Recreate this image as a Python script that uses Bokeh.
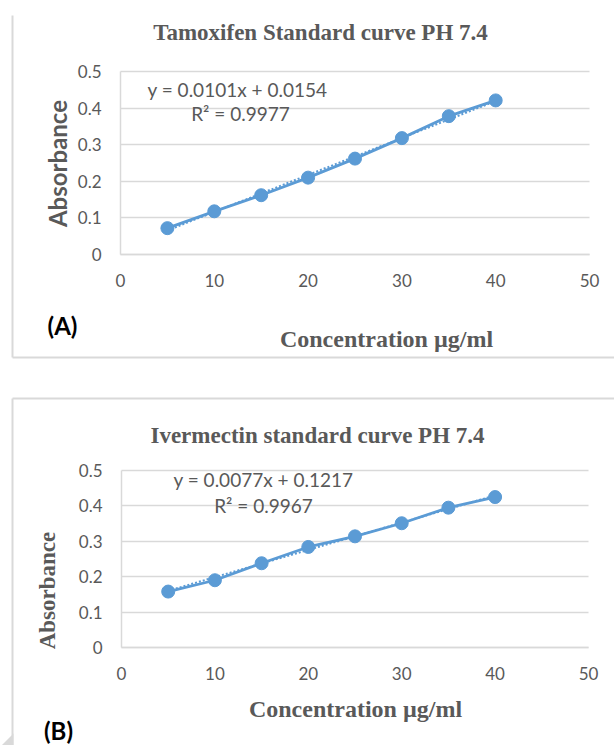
from bokeh.plotting import figure
from bokeh.models import Range1d, FixedTicker, Label
from bokeh.layouts import column
from bokeh.embed import file_html
from bokeh.resources import INLINE

# ---- data ----
conc = [5, 10, 15, 20, 25, 30, 35, 40]
abs_tamoxifen = [0.072, 0.118, 0.162, 0.210, 0.262, 0.318, 0.378, 0.421]
abs_ivermectin = [0.158, 0.190, 0.238, 0.284, 0.314, 0.351, 0.395, 0.425]
tam_slope, tam_intercept, tam_r2 = 0.0101, 0.0154, 0.9977
iver_slope, iver_intercept, iver_r2 = 0.0077, 0.1217, 0.9967
x_ticks = [0, 10, 20, 30, 40, 50]
y_ticks = [0, 0.1, 0.2, 0.3, 0.4, 0.5]
y_tick_labels = ["0", "0.1", "0.2", "0.3", "0.4", "0.5"]
X_MAX, Y_MAX = 50, 0.5

BLUE = "#5b9bd5"
GRAY = "#595959"
LINE = "#d9d9d9"
SANS = "Lato"
SERIF = "Liberation Serif"


def make_chart(ys, slope, intercept, r2, title, ylab_font, ylab_size, tag,
               width, height, origin, frame, pos, box, corner=None):
    ox, oy = origin
    fl, ft, fr, fb = frame  # plot-area edges in page px

    def dx(px):
        return (px - fl) / (fr - fl) * X_MAX

    def dy(py):
        return (fb - py) / (fb - ft) * Y_MAX

    p = figure(width=width, height=height, output_backend="svg",
               toolbar_location=None,
               x_range=Range1d(dx(ox), dx(ox + width)),
               y_range=Range1d(dy(oy + height), dy(oy)),
               min_border=0, min_border_left=0, min_border_right=0,
               min_border_top=0, min_border_bottom=0)
    p.outline_line_color = None
    p.background_fill_color = "white"
    p.border_fill_color = "white"

    for ax in (p.xaxis[0], p.yaxis[0]):
        ax.fixed_location = 0
        ax.axis_line_color = LINE
        ax.axis_line_width = 1.5
        ax.major_tick_line_color = None
        ax.minor_tick_line_color = None
        ax.major_tick_out = 0
        ax.major_tick_in = 0
        ax.major_label_text_font = SANS
        ax.major_label_text_font_size = "17px"
        ax.major_label_text_color = GRAY
    p.xaxis.bounds = (0, X_MAX)
    p.yaxis.bounds = (0, Y_MAX)
    p.xaxis.ticker = FixedTicker(ticks=x_ticks)
    p.yaxis.ticker = FixedTicker(ticks=y_ticks)
    p.yaxis.major_label_overrides = {t: s for t, s in zip(y_ticks, y_tick_labels)}
    p.xaxis.major_label_standoff = 19
    p.yaxis.major_label_standoff = 19
    p.xgrid.grid_line_color = None
    p.ygrid.grid_line_color = LINE
    p.ygrid.grid_line_width = 1.5
    p.ygrid.bounds = (0, Y_MAX)
    if "cross_bounds" in p.ygrid[0].properties():
        p.ygrid.cross_bounds = (0, X_MAX)

    # chart box (light gray frame lines)
    for (x0, y0, x1, y1) in box:
        p.segment(x0=[dx(x0)], y0=[dy(y0)], x1=[dx(x1)], y1=[dy(y1)],
                  line_color=LINE, line_width=2)
    if corner:
        p.patch([dx(c[0]) for c in corner], [dy(c[1]) for c in corner],
                fill_color=LINE, line_color=None)

    fit_x = [conc[0], conc[-1]]
    fit_y = [slope * x + intercept for x in fit_x]
    p.line(fit_x, fit_y, line_color=BLUE, line_width=2, line_dash="2 2")
    p.line(conc, ys, line_color=BLUE, line_width=2.8)
    p.scatter(conc, ys, size=13, fill_color=BLUE, line_color=BLUE)

    def lbl(key, text, font, size, bold=True, angle=0.0, color=GRAY):
        px, py = pos[key]
        p.add_layout(Label(x=dx(px), y=dy(py), text=text, text_font=font,
                           text_font_size=size,
                           text_font_style="bold" if bold else "normal",
                           text_color=color, text_align="center",
                           text_baseline="middle", angle=angle))

    lbl("title", title, SERIF, "23px")
    lbl("eq", f"y = {slope}x + {intercept}", SANS, "19px", bold=False)
    lbl("r2", f"R² = {r2}", SANS, "19px", bold=False)
    lbl("ylab", "Absorbance", ylab_font, ylab_size, angle=1.5707963)
    lbl("xlab", "Concentration µg/ml", SERIF, "24px")
    lbl("tag", tag, SANS, "24px", color="#000000")
    return p


pa = make_chart(abs_tamoxifen, tam_slope, tam_intercept, tam_r2,
                "Tamoxifen Standard curve PH 7.4", SANS, "24px", "(A)",
                width=614, height=388, origin=(0, 0),
                frame=(120, 71, 589, 254),
                pos={"title": (320, 32), "eq": (237, 89), "r2": (240, 113),
                     "ylab": (57, 163), "xlab": (386, 338), "tag": (62, 325)},
                box=[(12, 15, 12, 357), (12, 357, 620, 357)])

pb = make_chart(abs_ivermectin, iver_slope, iver_intercept, iver_r2,
                "Ivermectin standard curve PH 7.4", SERIF, "23px", "(B)",
                width=614, height=357, origin=(0, 388),
                frame=(121, 470, 588, 647),
                pos={"title": (317, 435), "eq": (263, 479), "r2": (263, 505),
                     "ylab": (47, 590), "xlab": (355, 708), "tag": (58, 730)},
                box=[(12, 398, 12, 750), (12, 398, 620, 398)],
                corner=[(0, 746), (13, 746), (13, 733)])

layout = column(pa, pb, spacing=0)
open("out.html", "w").write(file_html(layout, INLINE))
